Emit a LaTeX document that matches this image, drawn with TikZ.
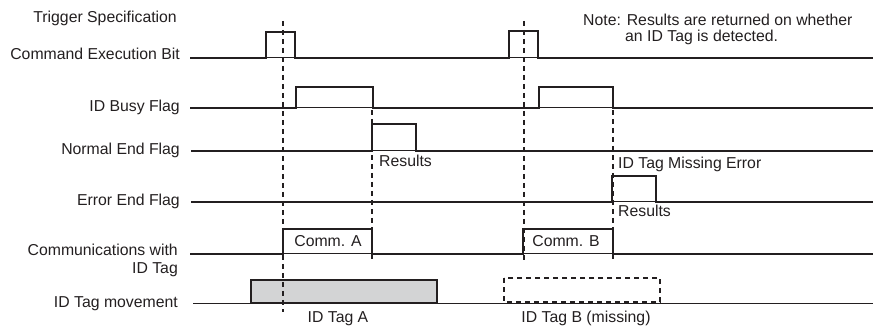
\documentclass[tikz,border=0pt]{standalone}
\usepackage{fontspec}
\setmainfont{Liberation Sans}
\definecolor{tagfill}{HTML}{D3D4D5}
\definecolor{ink}{HTML}{231F20}
\begin{document}
\begin{tikzpicture}[x=1pt,y=-1pt]
\tikzset{
  lbl/.style={font=\fontsize{15.8}{18}\selectfont, inner sep=0pt, text=ink},
  sig/.style={line width=2pt, line join=miter, draw=ink},
  thinbase/.style={line width=1pt, draw=ink},
  vdash/.style={line width=2pt, draw=ink, dash pattern=on 5pt off 4pt},
  tagbox/.style={line width=2pt, draw=ink},
}
\useasboundingbox (0,0) rectangle (873,331);

% left labels
\node[lbl, anchor=base east] (trig) at (177,23) {Trigger Specification};
\node[lbl, anchor=base east] (ceb) at (180,60) {Command Execution Bit};
\node[lbl, anchor=base east] (busy) at (180,112) {ID Busy Flag};
\node[lbl, anchor=base east] (nef) at (180,155) {Normal End Flag};
\node[lbl, anchor=base east] (eef) at (180,206) {Error End Flag};
\node[lbl, anchor=base east] (comm1) at (178,256) {Communications with};
\node[lbl, anchor=base east] (comm2) at (178,273) {ID Tag};
\node[lbl, anchor=base east] (mov) at (178,307) {ID Tag movement};

% note
\node[lbl, anchor=base west] (note1) at (583,26) {Note: Results are returned on whether};
\node[lbl, anchor=base west] (note2) at (625,42) {an ID Tag is detected.};

% baselines (thin)
\coordinate (c0) at (190,58);  \coordinate (c1) at (873,58);
\coordinate (b0) at (190,108); \coordinate (b1) at (873,108);
\coordinate (n0) at (191,151); \coordinate (n1) at (873,151);
\coordinate (e0) at (191,202); \coordinate (e1) at (873,202);
\coordinate (m0) at (190,254); \coordinate (m1) at (873,254);
\coordinate (t0) at (193,303); \coordinate (t1) at (873,303);
\draw[thinbase] (c0) -- (c1);
\draw[thinbase] (b0) -- (b1);
\draw[thinbase] (n0) -- (n1);
\draw[thinbase] (e0) -- (e1);
\draw[thinbase] (m0) -- (m1);
\draw[thinbase] (t0) -- (t1);

% tag movement boxes
\draw[tagbox, fill=tagfill] (251,280) rectangle (437,303);
\draw[tagbox, dash pattern=on 5pt off 4pt] (504,278) rectangle (660,302);

% waveforms (thick)
\draw[sig] (c0) -- (266,58) -- (266,32) -- (295,32) -- (295,58) -- (509,58) -- (509,31) -- (538,31) -- (538,58) -- (c1);
\draw[sig] (b0) -- (296,108) -- (296,87) -- (373,87) -- (373,108) -- (539,108) -- (539,87) -- (613,87) -- (613,108) -- (b1);
\draw[sig] (n0) -- (372,151) -- (372,124) -- (416,124) -- (416,151) -- (n1);
\draw[sig] (e0) -- (612,202) -- (612,176) -- (656,176) -- (656,202) -- (e1);
\draw[sig] (m0) -- (283,254) -- (283,229) -- (372,229) -- (372,254) -- (523,254) -- (523,229) -- (613,229) -- (613,254) -- (m1);

% dashed timing guides
\coordinate (d1t) at (283,21);  \coordinate (d1b) at (283,312);
\coordinate (d2t) at (524,21);  \coordinate (d2b) at (524,262);
\coordinate (d3t) at (372,110); \coordinate (d3b) at (372,262);
\coordinate (d4t) at (613,110); \coordinate (d4b) at (613,262);
\draw[vdash] (d1t) -- (d1b);
\draw[vdash] (d2t) -- (d2b);
\draw[vdash] (d3t) -- (d3b);
\draw[vdash] (d4t) -- (d4b);

% signal annotations
\node[lbl, anchor=base west] (res1) at (379,167) {Results};
\node[lbl, anchor=base west] (miss) at (618,169) {ID Tag Missing Error};
\node[lbl, anchor=base west] (res2) at (618,217) {Results};
\node[lbl, anchor=base] (cA) at (328,247) {Comm. A};
\node[lbl, anchor=base] (cB) at (566,247) {Comm. B};
\node[lbl, anchor=base] (tA) at (338,322) {ID Tag A};
\node[lbl, anchor=base] (tB) at (586,322) {ID Tag B (missing)};
\end{tikzpicture}
\end{document}
